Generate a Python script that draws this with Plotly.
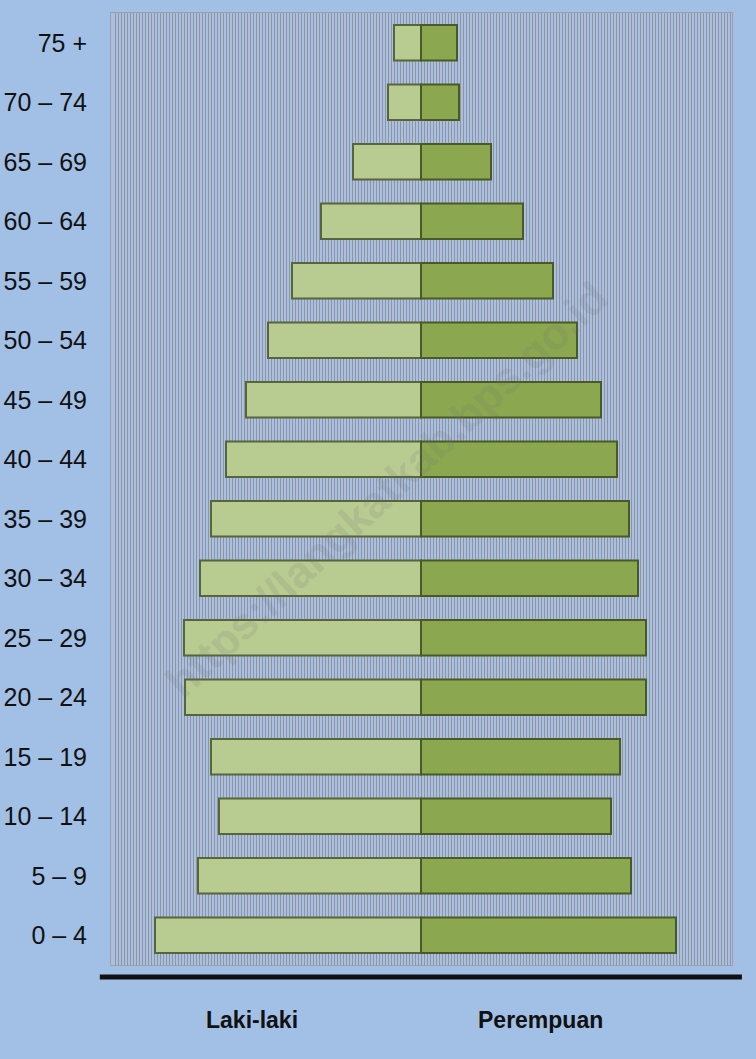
import plotly.graph_objects as go

age_groups = ["0 – 4", "5 – 9", "10 – 14", "15 – 19", "20 – 24", "25 – 29", "30 – 34",
              "35 – 39", "40 – 44", "45 – 49", "50 – 54", "55 – 59", "60 – 64",
              "65 – 69", "70 – 74", "75 +"]
laki_laki = [266, 223, 202, 210, 236, 237, 221, 210, 195, 175, 153, 129, 100, 68, 33, 27]
perempuan = [255, 210, 190, 199, 225, 225, 217, 208, 196, 180, 156, 132, 102, 70, 38, 36]
x_labels = ["Laki-laki", "Perempuan"]

FONT = "Liberation Sans, Arial, sans-serif"

fig = go.Figure()
fig.add_trace(go.Bar(
    y=age_groups, x=[-v for v in laki_laki], orientation="h", width=0.6,
    marker=dict(color="#B8CC92", line=dict(color="#56653A", width=2)),
    name=x_labels[0], hoverinfo="text", text=[str(v) for v in laki_laki], textposition="none"))
fig.add_trace(go.Bar(
    y=age_groups, x=perempuan, orientation="h", width=0.6,
    marker=dict(color="#8BA850", line=dict(color="#4A5A24", width=2)),
    name=x_labels[1], hoverinfo="text", text=[str(v) for v in perempuan], textposition="none"))

fig.update_layout(
    width=756, height=1059,
    paper_bgcolor="#A2BFE5", plot_bgcolor="#A9C0E3",
    barmode="overlay", showlegend=False,
    margin=dict(l=111, r=24, t=13, b=94, pad=0),
    xaxis=dict(range=[-310, 311], showticklabels=False, ticks="", automargin=False,
               showgrid=True, gridcolor="#8F949E", gridwidth=1, dtick=3,
               zeroline=True, zerolinecolor="#8A8F98", zerolinewidth=1,
               showline=True, linecolor="#9A9FA8", mirror=True),
    yaxis=dict(range=[-0.5, 15.5], showgrid=False, ticks="", automargin=False,
               tickfont=dict(family=FONT, size=25, color="#111111"),
               showline=True, linecolor="#9A9FA8", mirror=True, ticklabelstandoff=18),
    font=dict(family=FONT),
)

# bottom thick axis bar
fig.add_shape(type="line", xref="paper", yref="paper", x0=-0.018, x1=1.016, y0=-0.0125, y1=-0.0125,
              line=dict(color="#111111", width=5))

# category labels under the chart
for txt, xc in zip(x_labels, [-169, 119]):
    fig.add_annotation(x=xc, y=-0.058, xref="x", yref="paper", yanchor="middle",
                       text="<b>" + txt + "</b>",
                       showarrow=False, font=dict(size=23, color="#111111"))

# watermark
fig.add_annotation(x=-35, y=0.5, xref="x", yref="paper", text="<b>https://langkatkab.bps.go.id</b>",
                   showarrow=False, textangle=-43, opacity=0.15,
                   font=dict(family=FONT, size=44, color="#707070"))

fig.write_html("out.html", config={"displayModeBar": False},
               post_script="document.body.style.margin='0';document.body.style.background='#A2BFE5';")
